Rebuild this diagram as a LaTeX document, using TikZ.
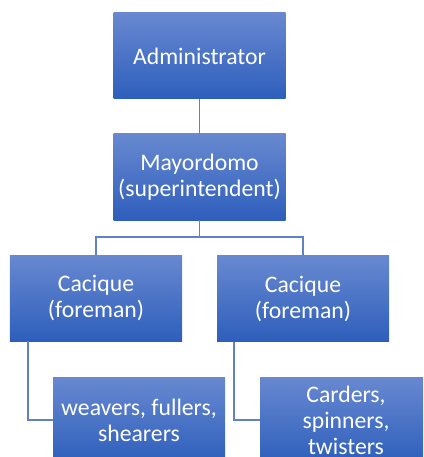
\documentclass[tikz,border=0pt]{standalone}
\usepackage{fontspec}
\setmainfont{Carlito}
\definecolor{boxtop}{RGB}{104,137,208}
\definecolor{boxbot}{RGB}{46,94,188}
\definecolor{linkc}{RGB}{96,128,200}
\begin{document}
\begin{tikzpicture}[x=1bp,y=-1bp,
  orgbox/.style={rectangle, minimum width=172bp, minimum height=86bp, inner sep=0pt,
    top color=boxtop, bottom color=boxbot, draw=none, text=white, align=center,
    font=\fontsize{23.7bp}{26bp}\selectfont},
  link/.style={draw=linkc, line width=1.3bp}]
\useasboundingbox (0,0) rectangle (423,457);
\clip (0,0) rectangle (423,457);
\node[orgbox] (adm) at (199.5,56) {Administrator};
\node[orgbox] (may) at (199.5,177) {Mayordomo\\(superintendent)};
\node[orgbox] (cl) at (96,298) {Cacique\\(foreman)};
\node[orgbox] (cr) at (303,298.5) {Cacique\\(foreman)};
\node[orgbox] (wv) at (139,420) {weavers, fullers,\\shearers};
\node[orgbox] (cd) at (346,420) {Carders,\\spinners,\\twisters};
\coordinate (j) at (199.5,237);
\draw[link] (adm.south) -- (may.north);
\draw[link] (may.south) -- (j) -| (cl.north);
\draw[link] (j) -| (cr.north);
\draw[link] ([xshift=-68bp]cl.south) |- (wv.west);
\draw[link] ([xshift=-69bp]cr.south) |- (cd.west);
\end{tikzpicture}
\end{document}
